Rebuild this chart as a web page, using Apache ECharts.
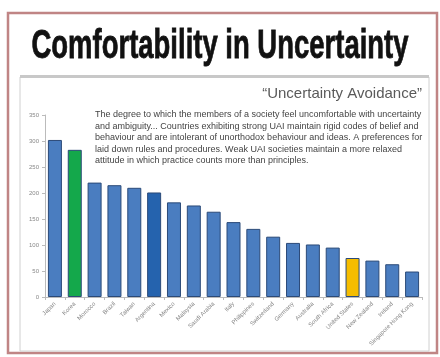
<!DOCTYPE html>
<html><head><meta charset="utf-8">
<script src="https://cdn.jsdelivr.net/npm/echarts@6/dist/echarts.min.js"></script>
<style>html,body{margin:0;padding:0;background:#fff}#c{width:440px;height:357px}</style>
</head><body><div id="c"></div>
<script>
var categories = ["Japan","Korea","Morocco","Brazil","Taiwan","Argentina","Mexico","Malaysia","Saudi Arabia","Italy","Philippines","Switzerland","Germany","Australia","South Africa","United States","New Zealand","Ireland","Singapore Hong Kong"];
var values = [302, 283, 220, 215, 210, 201, 182, 176, 164, 144, 131, 116, 104, 101, 95, 75, 70, 63, 49];
var highlightGreen = "Korea";
var highlightYellow = "United States";
var darkBlue = "Argentina";
var yTicks = {min: 0, max: 350, interval: 50};
var titleText = "Comfortability in Uncertainty";
var subtitleText = "\u201CUncertainty Avoidance\u201D";
var descLines = [
  "The degree to which the members of a society feel uncomfortable with uncertainty",
  "and ambiguity... Countries exhibiting strong UAI maintain rigid codes of belief and",
  "behaviour and are intolerant of unorthodox behaviour and ideas. A preferences for",
  "laid down rules and procedures. Weak UAI societies maintain a more relaxed",
  "attitude in which practice counts more than principles."
];

function measure(text, font){
  var cv = document.createElement('canvas').getContext('2d');
  cv.font = font; return cv.measureText(text).width;
}
var titleFont = 'bold 41px "Liberation Sans"';
var titleScale = 377 / measure(titleText, titleFont);

var chart = echarts.init(document.getElementById('c'), null, {renderer:'canvas'});
chart.setOption({
  animation: false,
  backgroundColor: '#fff',
  grid: {left: 45, right: 18, top: 115, bottom: 60, containLabel: false},
  xAxis: {
    type: 'category', data: categories,
    axisLine: {lineStyle: {color: '#bbb'}},
    axisTick: {show: true, lineStyle: {color: '#bbb'}, length: 3},
    axisLabel: {rotate: 45, interval: 0, fontSize: 6, color: '#888', margin: 6, fontFamily: 'Liberation Sans'}
  },
  yAxis: {
    type: 'value', min: yTicks.min, max: yTicks.max, interval: yTicks.interval,
    axisLine: {show: true, lineStyle: {color: '#bbb'}},
    axisTick: {show: true, length: 3, lineStyle: {color: '#bbb'}},
    splitLine: {show: false},
    axisLabel: {fontSize: 6, color: '#888', margin: 6, fontFamily: 'Liberation Sans'}
  },
  series: [{
    type: 'bar', barWidth: 14,
    data: values.map(function(v, i){
      var c = categories[i];
      var col = c === highlightGreen ? '#14a84b' : c === highlightYellow ? '#f5bd00' : c === darkBlue ? '#2563ae' : '#4a7dc0';
      return {value: v, itemStyle: {color: col, borderColor: '#2b4a78', borderWidth: 1}};
    })
  }],
  graphic: [
    {type: 'rect', z: -10, shape: {x: 8, y: 13, width: 429, height: 340}, style: {fill: 'none', stroke: '#c08585', lineWidth: 2.5}},
    {type: 'rect', z: -10, shape: {x: 20, y: 77, width: 409, height: 274}, style: {fill: 'none', stroke: '#d0d0d0', lineWidth: 1}},
    {type: 'rect', z: -10, shape: {x: 20, y: 75, width: 409, height: 3}, style: {fill: '#c8c8c8'}},
    {type: 'text', x: 220, y: 47, scaleX: titleScale, scaleY: 1,
      style: {text: titleText, font: titleFont, fill: '#111', stroke: '#111', lineWidth: 0.8, align: 'center', verticalAlign: 'middle'}},
    {type: 'text', x: 422, y: 94,
      style: {text: subtitleText, font: '15px "Liberation Sans"', fill: '#5a5a5a', align: 'right', verticalAlign: 'middle'}},
    {type: 'text', x: 95, y: 109,
      style: {text: descLines.join('\n'), font: '9px "Liberation Sans"', fill: '#444', lineHeight: 11.5, align: 'left', verticalAlign: 'top'}}
  ]
});
</script></body></html>
